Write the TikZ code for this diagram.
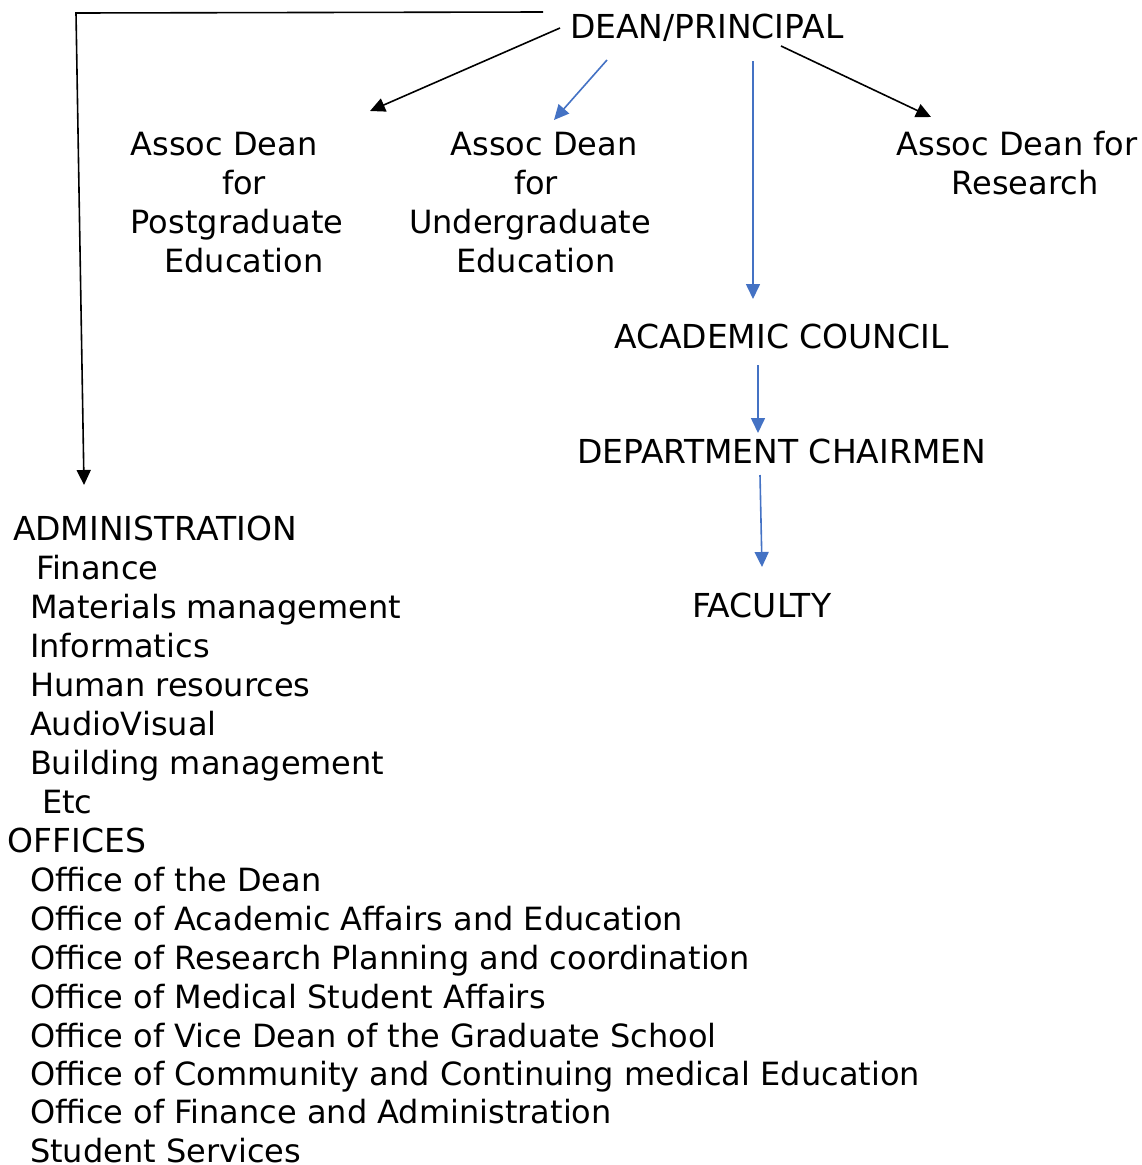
\documentclass[tikz,border=0pt]{standalone}
\usepackage{fontspec}
\setmainfont{DejaVu Sans}
\usetikzlibrary{arrows.meta}
\definecolor{arrowblue}{RGB}{68,114,196}
\begin{document}
\begin{tikzpicture}[x=1pt,y=-1pt,
  every node/.style={inner sep=0pt, outer sep=0pt, font=\fontsize{32}{39}\selectfont},
  caps/.style={font=\fontsize{33}{39}\selectfont},
  lbl/.style={anchor=base west},
  multi/.style={anchor=base, align=center},
  blk/.style={draw=black, line width=1.6pt, -{Triangle[length=15pt,width=14pt]}},
  blu/.style={draw=arrowblue, line width=1.6pt, -{Triangle[length=15pt,width=14pt]}}]
\useasboundingbox (0,0) rectangle (1141,1165);

% top nodes (multi-line nodes are placed by the baseline of their last line)
\node[lbl,caps] (dean) at (570,38.5) {DEAN/PRINCIPAL};
\node[multi] (pg) at (237,272) {\hspace*{-26pt}Assoc Dean\\\hspace*{14pt}for\\Postgraduate\\\hspace*{14pt}Education};
\node[multi] (ug) at (536,272) {\hspace*{16pt}Assoc Dean\\for\\\hspace*{-12pt}Undergraduate\\Education};
\node[multi] (res) at (1021,194) {\hspace*{-8pt}Assoc Dean for\\\hspace*{8pt}Research};
\node[lbl,caps] (ac) at (614,348) {ACADEMIC COUNCIL};
\node[lbl,caps] (dc) at (577,463) {DEPARTMENT CHAIRMEN};
\node[lbl,caps] (fac) at (692,617) {FACULTY};

% lists
\node[lbl,caps] (adm) at (13,540) {ADMINISTRATION};
\node[lbl] (adm1) at (36,579) {Finance};
\node[lbl] (adm2) at (30,618) {Materials management};
\node[lbl] (adm3) at (30,657) {Informatics};
\node[lbl] (adm4) at (30,696) {Human resources};
\node[lbl] (adm5) at (30,735) {AudioVisual};
\node[lbl] (adm6) at (30,774) {Building management};
\node[lbl] (adm7) at (42,813) {Etc};
\node[lbl,caps] (off) at (8,852) {OFFICES};
\node[lbl] (off1) at (30,891) {Office of the Dean};
\node[lbl] (off2) at (30,930) {Office of Academic Affairs and Education};
\node[lbl] (off3) at (30,969) {Office of Research Planning and coordination};
\node[lbl] (off4) at (30,1008) {Office of Medical Student Affairs};
\node[lbl] (off5) at (30,1047) {Office of Vice Dean of the Graduate School};
\node[lbl] (off6) at (30,1085) {Office of Community and Continuing medical Education};
\node[lbl] (off7) at (30,1123) {Office of Finance and Administration};
\node[lbl] (off8) at (30,1162) {Student Services};

% connector end points
\coordinate (d1) at (543,12);
\coordinate (c1) at (76,13);
\coordinate (a1) at (84,485);
\coordinate (d2) at (560,28);
\coordinate (p1) at (370,111);
\coordinate (d3) at (607,60);
\coordinate (u1) at (554,120);
\coordinate (d4) at (753,61);
\coordinate (ac1) at (753,299);
\coordinate (d5) at (781,46);
\coordinate (r1) at (931,117);
\coordinate (ac2) at (758,365);
\coordinate (dc1) at (758,433);
\coordinate (dc2) at (760,475);
\coordinate (f1) at (762,567);

\draw[blk] (d1) -- (c1) -- (a1);
\draw[blk] (d2) -- (p1);
\draw[blu] (d3) -- (u1);
\draw[blu] (d4) -- (ac1);
\draw[blk] (d5) -- (r1);
\draw[blu] (ac2) -- (dc1);
\draw[blu] (dc2) -- (f1);
\end{tikzpicture}
\end{document}
